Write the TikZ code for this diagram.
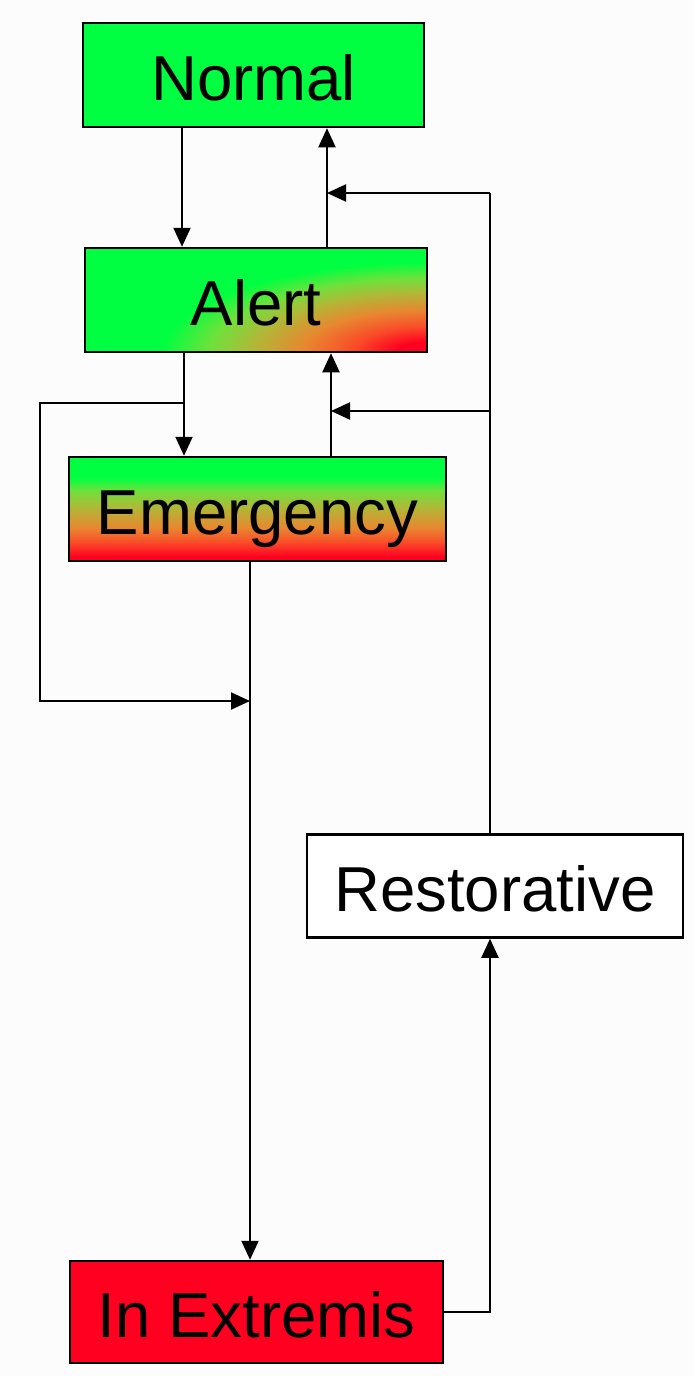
\documentclass[tikz,border=0pt]{standalone}
\usepackage{fontspec}
\setmainfont{Liberation Sans}
\usetikzlibrary{arrows.meta}
\definecolor{exgreen}{RGB}{0,255,64}
\definecolor{lgreen}{RGB}{110,225,60}
\definecolor{ylw}{RGB}{175,185,55}
\definecolor{orng}{RGB}{232,135,48}
\definecolor{orgred}{RGB}{250,75,40}
\definecolor{exred}{RGB}{255,0,32}
\definecolor{bg}{RGB}{252,252,252}
\pgfdeclareverticalshading{emsh}{100bp}{color(0bp)=(exred); color(27bp)=(exred); color(34bp)=(orgred); color(41bp)=(orng); color(51bp)=(ylw); color(59bp)=(lgreen); color(65bp)=(exgreen); color(100bp)=(exgreen)}
\pgfdeclareradialshading{alertsh}{\pgfpoint{0bp}{0bp}}{color(0bp)=(exred); color(1.5bp)=(exred); color(3.7bp)=(orgred); color(6.2bp)=(orng); color(8.8bp)=(ylw); color(10.9bp)=(lgreen); color(13.2bp)=(exgreen); color(50bp)=(exgreen)}
\begin{document}
\begin{tikzpicture}[x=1pt,y=-1pt,
  box/.style={draw=black, line width=2.5pt, rectangle, inner sep=0pt,
    text height=50pt, text depth=0pt, font=\fontsize{63.5}{70}\selectfont},
  arr/.style={line width=2pt, -{Triangle[length=19pt,width=17pt]}},
  ln/.style={line width=2pt}]
\fill[bg] (0,0) rectangle (694,1376);
\useasboundingbox (0,0) rectangle (694,1376);
\node[box, fill=exgreen, minimum width=341pt, minimum height=104pt] (normal) at (253.5,75) {Normal};
\node[box, fill=exgreen, minimum width=342pt, minimum height=104pt,
  path picture={\shade[shading=alertsh] (path picture bounding box.south east) ellipse [x radius=500pt, y radius=170pt];}] (alert) at (256,300) {Alert};
\node[box, shading=emsh, minimum width=377pt, minimum height=104pt] (emergency) at (257.5,509) {Emergency};
\node[box, fill=white, minimum width=376pt, minimum height=103pt] (restorative) at (495,886) {Restorative};
\node[box, fill=exred, minimum width=373pt, minimum height=102pt] (inextremis) at (256.5,1312) {In Extremis};
\coordinate (xa) at (182,0);
\coordinate (xb) at (327,0);
\coordinate (xc) at (184,0);
\coordinate (xd) at (331,0);
\coordinate (xe) at (250,0);
\coordinate (xr) at (490,0);
\coordinate (xl) at (40,0);
\coordinate (ya) at (0,193);
\coordinate (yb) at (0,411);
\coordinate (yc) at (0,403);
\coordinate (yd) at (0,701);
\draw[arr] (normal.south -| xa) -- (alert.north -| xa);
\draw[arr] (alert.north -| xb) -- (normal.south -| xb);
\draw[ln] (restorative.north -| xr) -- (xr |- ya);
\draw[arr] (xr |- ya) -- (xb |- ya);
\draw[arr] (xr |- yb) -- (xd |- yb);
\draw[arr] (alert.south -| xc) -- (emergency.north -| xc);
\draw[arr] (xc |- yc) -| (xl |- yd) -- (xe |- yd);
\draw[arr] (emergency.north -| xd) -- (alert.south -| xd);
\draw[arr] (emergency.south -| xe) -- (inextremis.north -| xe);
\draw[arr] (inextremis.east) -| (restorative.south -| xr);
\end{tikzpicture}
\end{document}
